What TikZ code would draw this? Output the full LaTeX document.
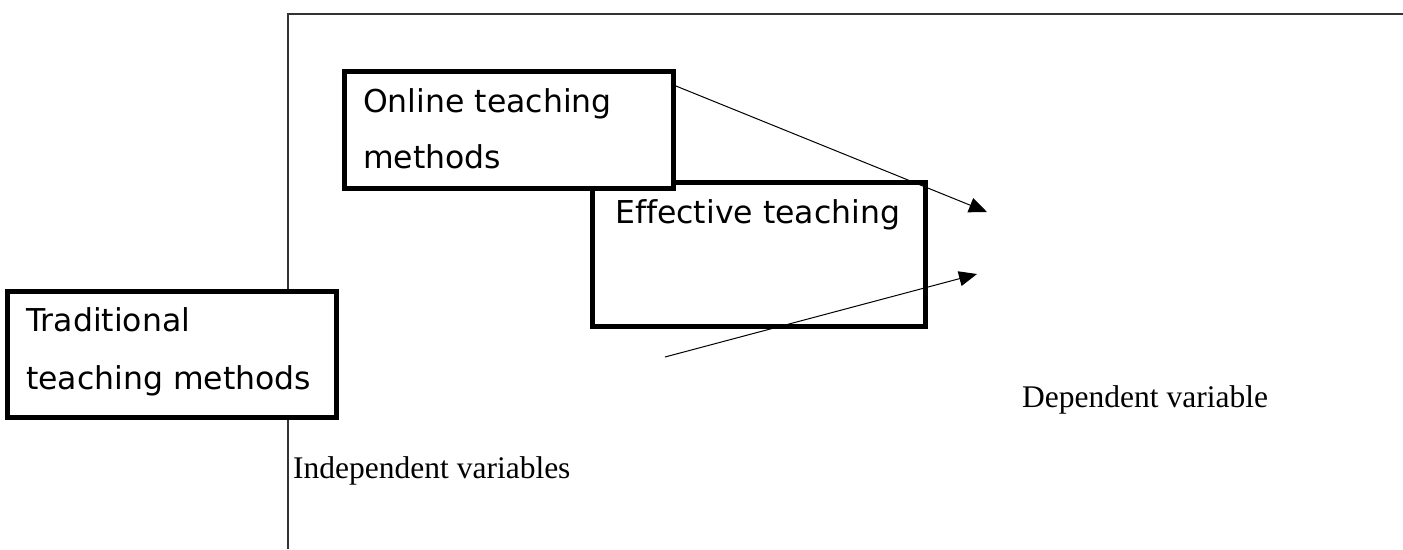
\documentclass[tikz,border=0pt]{standalone}
\usepackage{fontspec}
\newfontfamily\boxfont[Ligatures={NoCommon}]{DejaVu Sans}
\newfontfamily\lblfont{Liberation Serif}
\usetikzlibrary{arrows.meta}
\tikzset{
  frameline/.style={line width=1.5pt, draw=black!80},
  bigbox/.style={draw=black, line width=4.5pt, fill=white, rectangle, inner sep=0pt, anchor=north west},
  boxtext/.style={font=\boxfont\fontsize{31.5}{37}\selectfont, anchor=base west, inner sep=0pt},
  lbltext/.style={font=\lblfont\fontsize{31.5}{37}\selectfont, anchor=base west, inner sep=0pt},
  conn/.style={line width=1pt, -{Triangle[length=18pt,width=15pt]}}
}
\begin{document}
\begin{tikzpicture}[x=1pt,y=-1pt]
\useasboundingbox (0,0) rectangle (1403,549);
% frame (L-shaped)
\coordinate (fr) at (1403,14);
\coordinate (fc) at (288,14);
\coordinate (fb) at (288,549);
\draw[frameline] (fr) -- (fc) -- (fb);
% boxes
\node[bigbox, minimum width=333pt, minimum height=144pt] (eff) at (590,180) {};
\node[bigbox, minimum width=329pt, minimum height=117pt] (onl) at (342,69) {};
\node[bigbox, minimum width=329pt, minimum height=126pt] (trad) at (5,289) {};
% box texts
\node[boxtext] (onl1) at (363,112) {Online teaching};
\node[boxtext] (onl2) at (363,168) {methods};
\node[boxtext] (eff1) at (615,223) {Effective teaching};
\node[boxtext] (trad1) at (26,331) {Traditional};
\node[boxtext] (trad2) at (26,389) {teaching methods};
% labels
\node[lbltext] (dep) at (1022,407) {Dependent variable};
\node[lbltext] (ind) at (293,478) {Independent variables};
% arrows
\coordinate (a1s) at (671,84);
\coordinate (a1e) at (987,212);
\coordinate (a2s) at (665,357);
\coordinate (a2e) at (977,274);
\draw[conn] (a1s) -- (a1e);
\draw[conn] (a2s) -- (a2e);
\end{tikzpicture}
\end{document}
